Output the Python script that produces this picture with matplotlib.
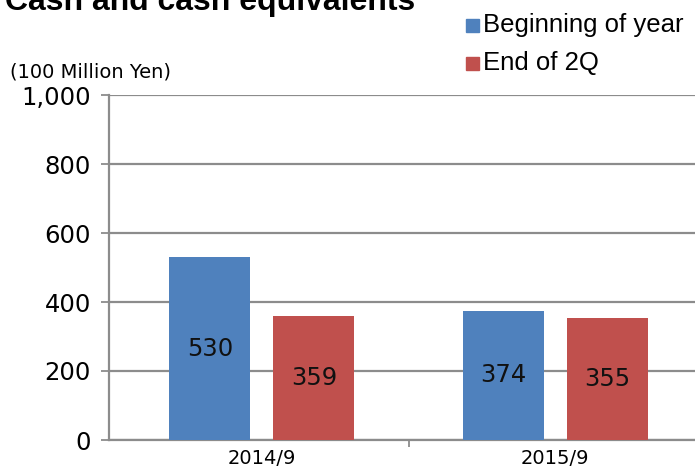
import matplotlib.pyplot as plt
import numpy as np

# data
periods = ['2014/9', '2015/9']
beginning = [530, 374]
end_2q = [359, 355]
series_names = ['Beginning of year', 'End of 2Q']

blue = '#4F81BD'
red = '#C0504D'
grey = '#8C8C8C'

fig = plt.figure(figsize=(6.95, 4.71), dpi=100)
ax = fig.add_axes([109 / 695, 31 / 471, (695 - 109) / 695, 345 / 471])

x = np.arange(len(periods))
w = 0.276
off = 0.177
b1 = ax.bar(x - off, beginning, w, color=blue, zorder=3)
b2 = ax.bar(x + off, end_2q, w, color=red, zorder=3)

# value labels in the middle of each bar
for bars, vals in ((b1, beginning), (b2, end_2q)):
    for rect, v in zip(bars, vals):
        ax.text(rect.get_x() + rect.get_width() / 2, v / 2, str(v),
                ha='center', va='center', fontsize=17.5, color='#111111',
                family='DejaVu Sans', zorder=4)

ax.set_xlim(-0.521, 1.476)
ax.set_ylim(0, 1000)
ax.set_yticks(range(0, 1001, 200))
ax.set_yticklabels(['0', '200', '400', '600', '800', '1,000'],
                   fontsize=17.5, family='DejaVu Sans')
ax.grid(axis='y', color=grey, linewidth=1.6, zorder=0)

# category labels with a single separator tick between groups
ax.set_xticks([0.5])
ax.set_xticklabels([''])
ax.tick_params(axis='x', length=5, width=1.3, color=grey)
ax.tick_params(axis='y', length=6, width=1.3, color=grey, pad=7)
for i, p in enumerate(periods):
    ax.text(i, -0.025, p, transform=ax.get_xaxis_transform(),
            ha='center', va='top', fontsize=14, family='DejaVu Sans')

for s in ['top', 'right']:
    ax.spines[s].set_visible(False)
for s in ['left', 'bottom']:
    ax.spines[s].set_color(grey)
    ax.spines[s].set_linewidth(1.6)

# title (clipped at top like the original)
fig.text(5 / 695, 1 - 10 / 471, 'Cash and cash equivalents', fontsize=23,
         fontweight='bold', family='Liberation Sans', va='baseline', ha='left')
fig.text(10 / 695, 1 - 72 / 471, '(100 Million Yen)', fontsize=14,
         family='Liberation Sans Narrow', va='center', ha='left')

# legend drawn manually at top right
for k, (name, col) in enumerate(zip(series_names, [blue, red])):
    yc = 1 - (25 + 38 * k) / 471
    fig.patches.append(plt.Rectangle((466 / 695, yc - 6.5 / 471), 13 / 695, 13 / 471,
                                     transform=fig.transFigure, color=col))
    fig.text(483 / 695, yc, name, fontsize=18.5, family='Liberation Sans',
             va='center', ha='left')

fig.savefig('out.png', dpi=100)
